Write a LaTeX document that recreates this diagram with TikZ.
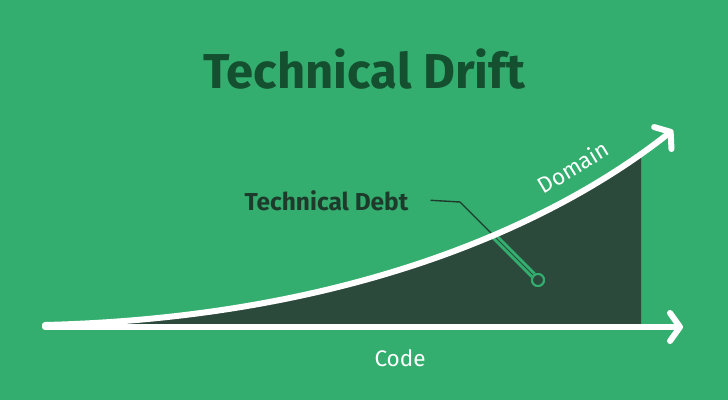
\documentclass[tikz,border=0pt]{standalone}
\usepackage{fontspec}
\setmainfont{Fira Sans}
\usetikzlibrary{arrows.meta}
\definecolor{driftgreen}{RGB}{52,174,111}
\definecolor{debtdark}{RGB}{43,74,59}
\definecolor{titlegreen}{RGB}{20,80,48}
\definecolor{leaderdark}{RGB}{30,58,43}
\newcommand\debtregion{(o) .. controls (330,318) and (540,235) .. (d) |- (o) -- cycle}
\begin{document}
\begin{tikzpicture}[x=1pt, y=-1pt,
  every node/.style={inner sep=0pt},
  axisline/.style={white, line width=6pt, line cap=round,
                   -{Straight Barb[length=10pt, width=28pt, round]}},
  ttl/.style={font=\fontsize{49}{49}\selectfont\bfseries, text=titlegreen},
  lbl/.style={font=\fontsize{22.5}{22.5}\selectfont, text=white},
  debtlbl/.style={font=\fontsize{24.5}{24.5}\selectfont\bfseries, text=leaderdark},
  pin/.style={circle, draw=driftgreen, fill=debtdark, line width=2pt,
              minimum size=12pt}
]
\fill[driftgreen] (0,0) rectangle (728,400);
\useasboundingbox (0,0) rectangle (728,400);
\coordinate (o) at (45,327);
\coordinate (c) at (683,327);
\coordinate (d) at (673,130);
% area under the domain curve
\begin{scope}
  \clip (0,0) rectangle (641,327);
  \fill[debtdark] \debtregion;
\end{scope}
\node[ttl, anchor=base] (title) at (364,88) {Technical Drift};
\node[debtlbl, anchor=base] (debt) at (326.5,210) {Technical Debt};
\coordinate (bend) at (460,202);
\node[pin] (dot) at (538,280) {};
\draw[leaderdark, line width=1.4pt] ([xshift=22pt]debt.east) -- (bend) -- (dot);
\begin{scope}
  \clip \debtregion;
  \draw[driftgreen, line width=3pt, double=debtdark, double distance=1pt]
    (bend) -- (dot);
\end{scope}
\node[pin] at (dot) {};
% axes
\draw[axisline] (45,325) .. controls (330,318) and (540,235) .. (d);
\draw[axisline] (o) -- (c);
\node[lbl, rotate=31] (domain) at (573,167) {Domain};
\node[lbl, anchor=base] (code) at (400,366) {Code};
\end{tikzpicture}
\end{document}
